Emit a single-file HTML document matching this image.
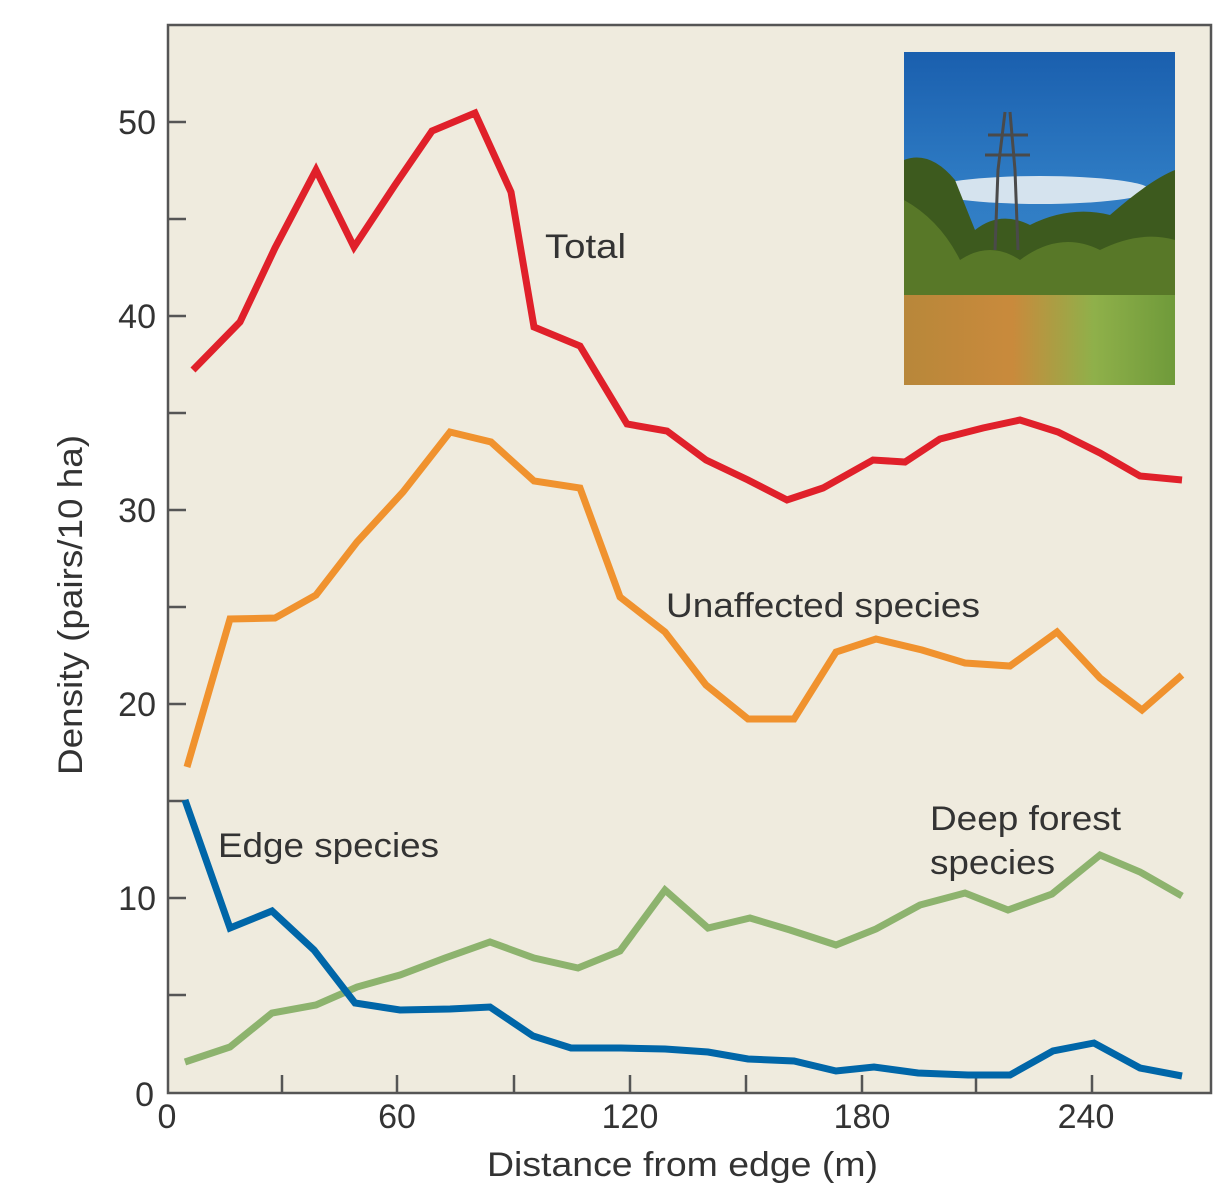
<!DOCTYPE html>
<html><head><meta charset="utf-8"><style>
html,body{margin:0;padding:0;background:#fff;width:1232px;height:1200px;overflow:hidden}
</style></head><body>
<svg width="1232" height="1200" viewBox="0 0 1232 1200" xmlns="http://www.w3.org/2000/svg" font-family="Liberation Sans, sans-serif">
<defs>
<linearGradient id="sky" x1="0" y1="0" x2="0" y2="1">
<stop offset="0" stop-color="#1a5fae"/><stop offset="0.4" stop-color="#2f7cc4"/><stop offset="1" stop-color="#3b86c9"/></linearGradient>
<linearGradient id="grass" x1="0" y1="0" x2="1" y2="0">
<stop offset="0" stop-color="#b8873a"/><stop offset="0.4" stop-color="#c98a3c"/><stop offset="0.7" stop-color="#8fb04a"/><stop offset="1" stop-color="#6f9a3a"/></linearGradient>
</defs>
<rect x="168" y="25" width="1043" height="1068" fill="#efebde" stroke="#555" stroke-width="2.5"/>
<g>
<rect x="904" y="52" width="271" height="333" fill="url(#sky)"/>
<ellipse cx="1040" cy="190" rx="110" ry="14" fill="#e8eef3" opacity="0.9"/>
<path d="M904 160 Q930 150 955 180 L975 230 Q1000 210 1030 225 Q1070 205 1110 215 Q1150 180 1175 170 L1175 340 L904 340 Z" fill="#3d5a1e"/>
<path d="M904 200 Q940 220 960 260 Q990 240 1020 260 Q1060 230 1100 250 Q1140 230 1175 240 L1175 330 L904 330 Z" fill="#5f7f2a" opacity="0.8"/>
<rect x="904" y="295" width="271" height="90" fill="url(#grass)"/>
<path d="M1005 112 L998 170 L995 250 M1010 112 L1015 170 L1018 250 M988 135 L1028 135 M985 155 L1030 155" stroke="#4a4a4a" stroke-width="3" fill="none"/>
</g>
<g stroke="#555" stroke-width="2.5">
<line x1="168" y1="122" x2="186" y2="122"/><line x1="168" y1="219" x2="186" y2="219"/>
<line x1="168" y1="316" x2="186" y2="316"/><line x1="168" y1="413" x2="186" y2="413"/>
<line x1="168" y1="510" x2="186" y2="510"/><line x1="168" y1="607" x2="186" y2="607"/>
<line x1="168" y1="704" x2="186" y2="704"/><line x1="168" y1="801" x2="186" y2="801"/>
<line x1="168" y1="898" x2="186" y2="898"/><line x1="168" y1="995" x2="186" y2="995"/>
<line x1="282" y1="1075" x2="282" y2="1093"/><line x1="397" y1="1075" x2="397" y2="1093"/>
<line x1="514" y1="1075" x2="514" y2="1093"/><line x1="630" y1="1075" x2="630" y2="1093"/>
<line x1="746" y1="1075" x2="746" y2="1093"/><line x1="862" y1="1075" x2="862" y2="1093"/>
<line x1="976" y1="1075" x2="976" y2="1093"/><line x1="1092" y1="1075" x2="1092" y2="1093"/>
</g>
<g fill="none" stroke-width="7" stroke-linejoin="miter">
<polyline stroke="#e0202a" points="193,370 240,322 275,248 316,170 354,247 395,185 432,131 475,113 511,192 534,327 580,346 627,424 667,431 706,460 748,480 787,500 823,488 873,460 905,462 940,439 983,428 1020,420 1058,432 1100,453 1140,476 1182,480"/>
<polyline stroke="#f0922e" points="187,767 230,619 275,618 316,595 357,542 403,492 450,432 491,442 534,481 580,488 620,597 665,632 706,685 748,719 794,719 836,652 876,639 922,650 965,663 1010,666 1057,632 1100,678 1142,710 1182,675"/>
<polyline stroke="#8db36e" points="185,1062 230,1047 272,1013 316,1005 357,987 400,975 445,958 490,942 534,958 578,968 620,951 665,890 708,928 750,918 790,930 836,945 876,929 920,905 965,893 1008,910 1052,894 1100,855 1140,872 1182,896"/>
<polyline stroke="#0066a8" points="185,800 230,928 272,911 314,950 355,1003 400,1010 450,1009 490,1007 533,1036 571,1048 621,1048 665,1049 708,1052 748,1059 794,1061 836,1071 874,1067 918,1073 968,1075 1010,1075 1053,1051 1094,1043 1140,1068 1182,1076"/>
</g>
<g fill="#333" font-size="34">
<g text-anchor="end">
<text x="156" y="134">50</text><text x="156" y="328">40</text><text x="156" y="522">30</text>
<text x="156" y="716">20</text><text x="156" y="910">10</text><text x="154" y="1106">0</text>
</g>
<g text-anchor="middle">
<text x="167" y="1128">0</text><text x="397" y="1128">60</text><text x="630" y="1128">120</text>
<text x="862" y="1128">180</text><text x="1086" y="1128">240</text>
</g>
<text x="487" y="1176" textLength="391" lengthAdjust="spacingAndGlyphs">Distance from edge (m)</text>
<text transform="translate(82,775) rotate(-90)" textLength="340" lengthAdjust="spacingAndGlyphs">Density (pairs/10 ha)</text>
<text x="545" y="258" textLength="81" lengthAdjust="spacingAndGlyphs">Total</text>
<text x="666" y="617" textLength="314" lengthAdjust="spacingAndGlyphs">Unaffected species</text>
<text x="218" y="857" textLength="221" lengthAdjust="spacingAndGlyphs">Edge species</text>
<text x="930" y="830" textLength="191" lengthAdjust="spacingAndGlyphs">Deep forest</text>
<text x="930" y="874" textLength="125" lengthAdjust="spacingAndGlyphs">species</text>
</g>
</svg>
</body></html>
